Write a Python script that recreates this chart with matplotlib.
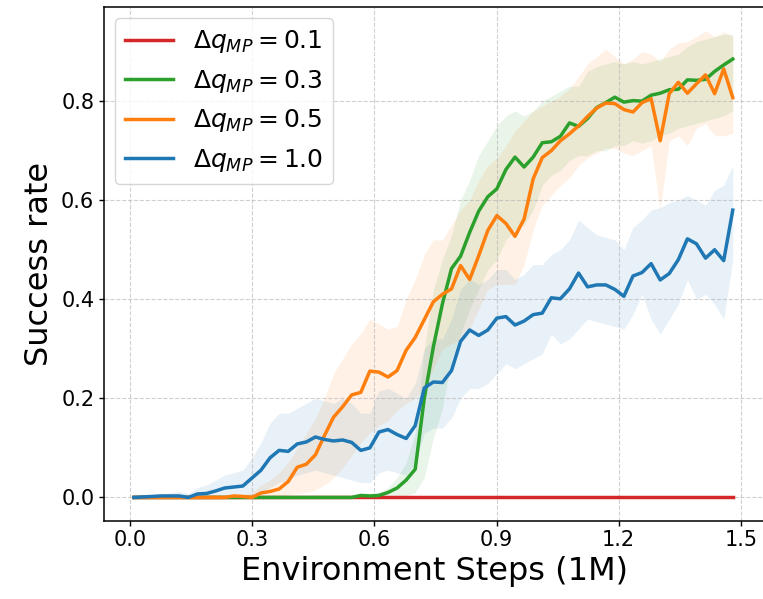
import numpy as np
import matplotlib
matplotlib.use("Agg")
import matplotlib.pyplot as plt

# evaluation points, in millions of environment steps
steps = np.linspace(0.01, 1.48, 67)

labels = [r"$\Delta q_{MP} = 0.1$", r"$\Delta q_{MP} = 0.3$",
          r"$\Delta q_{MP} = 0.5$", r"$\Delta q_{MP} = 1.0$"]
colors = ["#d62728", "#2ca02c", "#ff7f0e", "#1f77b4"]

red_mean = [0.0] * 67

green_mean = [0.0] * 25 + [
    0.004, 0.003, 0.004, 0.01, 0.019, 0.035, 0.057, 0.2, 0.304, 0.391,
    0.462, 0.487, 0.535, 0.578, 0.607, 0.623, 0.662, 0.687, 0.667, 0.687,
    0.716, 0.718, 0.729, 0.756, 0.749, 0.765, 0.787, 0.797, 0.808, 0.798,
    0.801, 0.8, 0.812, 0.816, 0.823, 0.824, 0.843, 0.842, 0.844, 0.86,
    0.873, 0.885]
green_lo = [0.0] * 30 + [
    0.003, 0.01, 0.04, 0.12, 0.18, 0.28, 0.33, 0.38, 0.42, 0.46,
    0.48, 0.52, 0.54, 0.55, 0.58, 0.63, 0.65, 0.66, 0.68, 0.69,
    0.69, 0.7, 0.7, 0.71, 0.71, 0.72, 0.715, 0.72, 0.73, 0.735,
    0.745, 0.75, 0.755, 0.76, 0.765, 0.77, 0.78]
green_hi = [0.0] * 25 + [
    0.008, 0.008, 0.01, 0.02, 0.04, 0.07, 0.13, 0.3, 0.42, 0.48,
    0.53, 0.6, 0.64, 0.69, 0.72, 0.75, 0.77, 0.78, 0.77, 0.78,
    0.8, 0.81, 0.82, 0.83, 0.83, 0.86, 0.87, 0.875, 0.88, 0.875,
    0.88, 0.875, 0.88, 0.885, 0.89, 0.895, 0.91, 0.92, 0.925, 0.93,
    0.935, 0.935]

orange_mean = [0.0] * 11 + [
    0.003, 0.002, 0.0, 0.009, 0.012, 0.017, 0.032, 0.061, 0.067, 0.086,
    0.125, 0.162, 0.183, 0.207, 0.212, 0.255, 0.253, 0.243, 0.256, 0.297,
    0.323, 0.359, 0.395, 0.41, 0.421, 0.468, 0.44, 0.488, 0.539, 0.569,
    0.553, 0.527, 0.562, 0.643, 0.686, 0.7, 0.72, 0.734, 0.75, 0.769,
    0.786, 0.796, 0.795, 0.783, 0.778, 0.797, 0.805, 0.72, 0.815, 0.838,
    0.816, 0.835, 0.853, 0.815, 0.865, 0.807]
orange_lo = [0.0] * 16 + [
    0.002, 0.005, 0.008, 0.01, 0.015, 0.025, 0.04, 0.06, 0.085, 0.11,
    0.13, 0.145, 0.155, 0.175, 0.19, 0.2, 0.22, 0.26, 0.3, 0.31,
    0.32, 0.34, 0.38, 0.42, 0.43, 0.43, 0.43, 0.47, 0.54, 0.59,
    0.61, 0.63, 0.645, 0.67, 0.685, 0.695, 0.705, 0.705, 0.695, 0.69,
    0.7, 0.71, 0.58, 0.72, 0.73, 0.71, 0.745, 0.755, 0.73, 0.73,
    0.735]
orange_hi = [0.0] * 12 + [
    0.005, 0.01, 0.025, 0.035, 0.05, 0.07, 0.1, 0.13, 0.16, 0.2,
    0.25, 0.28, 0.31, 0.33, 0.36, 0.35, 0.34, 0.345, 0.4, 0.44,
    0.49, 0.52, 0.52, 0.55, 0.58, 0.6, 0.64, 0.67, 0.685, 0.71,
    0.74, 0.76, 0.78, 0.79, 0.8, 0.81, 0.825, 0.85, 0.875, 0.89,
    0.905, 0.89, 0.875, 0.885, 0.9, 0.895, 0.88, 0.905, 0.918, 0.92,
    0.93, 0.942, 0.93, 0.94, 0.93]

blue_mean = [
    0.0, 0.001, 0.002, 0.003, 0.003, 0.003, 0.0, 0.007, 0.008, 0.013,
    0.019, 0.021, 0.023, 0.039, 0.055, 0.08, 0.095, 0.093, 0.108, 0.112,
    0.122, 0.117, 0.114, 0.116, 0.111, 0.095, 0.1, 0.132, 0.137, 0.127,
    0.119, 0.145, 0.221, 0.233, 0.232, 0.256, 0.315, 0.338, 0.327, 0.338,
    0.362, 0.365, 0.348, 0.356, 0.369, 0.372, 0.403, 0.401, 0.421, 0.453,
    0.425, 0.429, 0.429, 0.42, 0.406, 0.447, 0.454, 0.472, 0.439, 0.452,
    0.48, 0.522, 0.512, 0.483, 0.5, 0.478, 0.58]
blue_lo = [0.0] * 13 + [
    0.003, 0.01, 0.02, 0.03, 0.035, 0.045, 0.05, 0.055, 0.05, 0.045,
    0.04, 0.035, 0.03, 0.03, 0.05, 0.055, 0.05, 0.045, 0.07, 0.13,
    0.14, 0.14, 0.16, 0.2, 0.22, 0.22, 0.23, 0.25, 0.27, 0.26,
    0.27, 0.28, 0.29, 0.33, 0.31, 0.32, 0.34, 0.36, 0.355, 0.35,
    0.345, 0.34, 0.37, 0.41, 0.36, 0.33, 0.36, 0.39, 0.44, 0.4,
    0.41, 0.39, 0.36, 0.48]
blue_hi = [
    0.0, 0.0, 0.003, 0.005, 0.01, 0.012, 0.008, 0.02, 0.025, 0.035,
    0.045, 0.05, 0.055, 0.08, 0.11, 0.15, 0.17, 0.17, 0.18, 0.19,
    0.2, 0.195, 0.19, 0.2, 0.19, 0.17, 0.17, 0.215, 0.22, 0.21,
    0.2, 0.23, 0.3, 0.32, 0.32, 0.36, 0.42, 0.44, 0.43, 0.44,
    0.46, 0.46, 0.44, 0.45, 0.47, 0.47, 0.49, 0.5, 0.52, 0.56,
    0.545, 0.53, 0.525, 0.52, 0.5, 0.545, 0.56, 0.58, 0.585, 0.595,
    0.6, 0.61, 0.6, 0.59, 0.62, 0.63, 0.67]

means = [red_mean, green_mean, orange_mean, blue_mean]
lows = [red_mean, green_lo, orange_lo, blue_lo]
highs = [red_mean, green_hi, orange_hi, blue_hi]

fig = plt.figure(figsize=(7.63, 5.99), dpi=100)
# right edge of the axes sits just past the canvas, as in the cropped original
ax = fig.add_axes([0.1363, 0.1307, 0.866, 0.8576])

for mean, lo, hi, color, label in zip(means, lows, highs, colors, labels):
    ax.fill_between(steps, lo, hi, color=color, alpha=0.1, linewidth=0)
    ax.plot(steps, mean, color=color, linewidth=2.5, label=label)

ax.set_xlim(-0.0635, 1.5585)
ax.set_ylim(-0.047, 0.99)
ax.set_xticks([0.0, 0.3, 0.6, 0.9, 1.2, 1.5])
ax.set_yticks([0.0, 0.2, 0.4, 0.6, 0.8])
ax.tick_params(labelsize=15, width=1.0)
for side in ax.spines.values():
    side.set_linewidth(1.1)
ax.set_xlabel("Environment Steps (1M)", fontsize=23)
ax.set_ylabel("Success rate", fontsize=23)
ax.grid(True, linestyle="--", alpha=0.6)
ax.legend(loc="upper left", fontsize=18, handlelength=1.9, borderaxespad=0.45)

fig.savefig("out.png", dpi=100)
